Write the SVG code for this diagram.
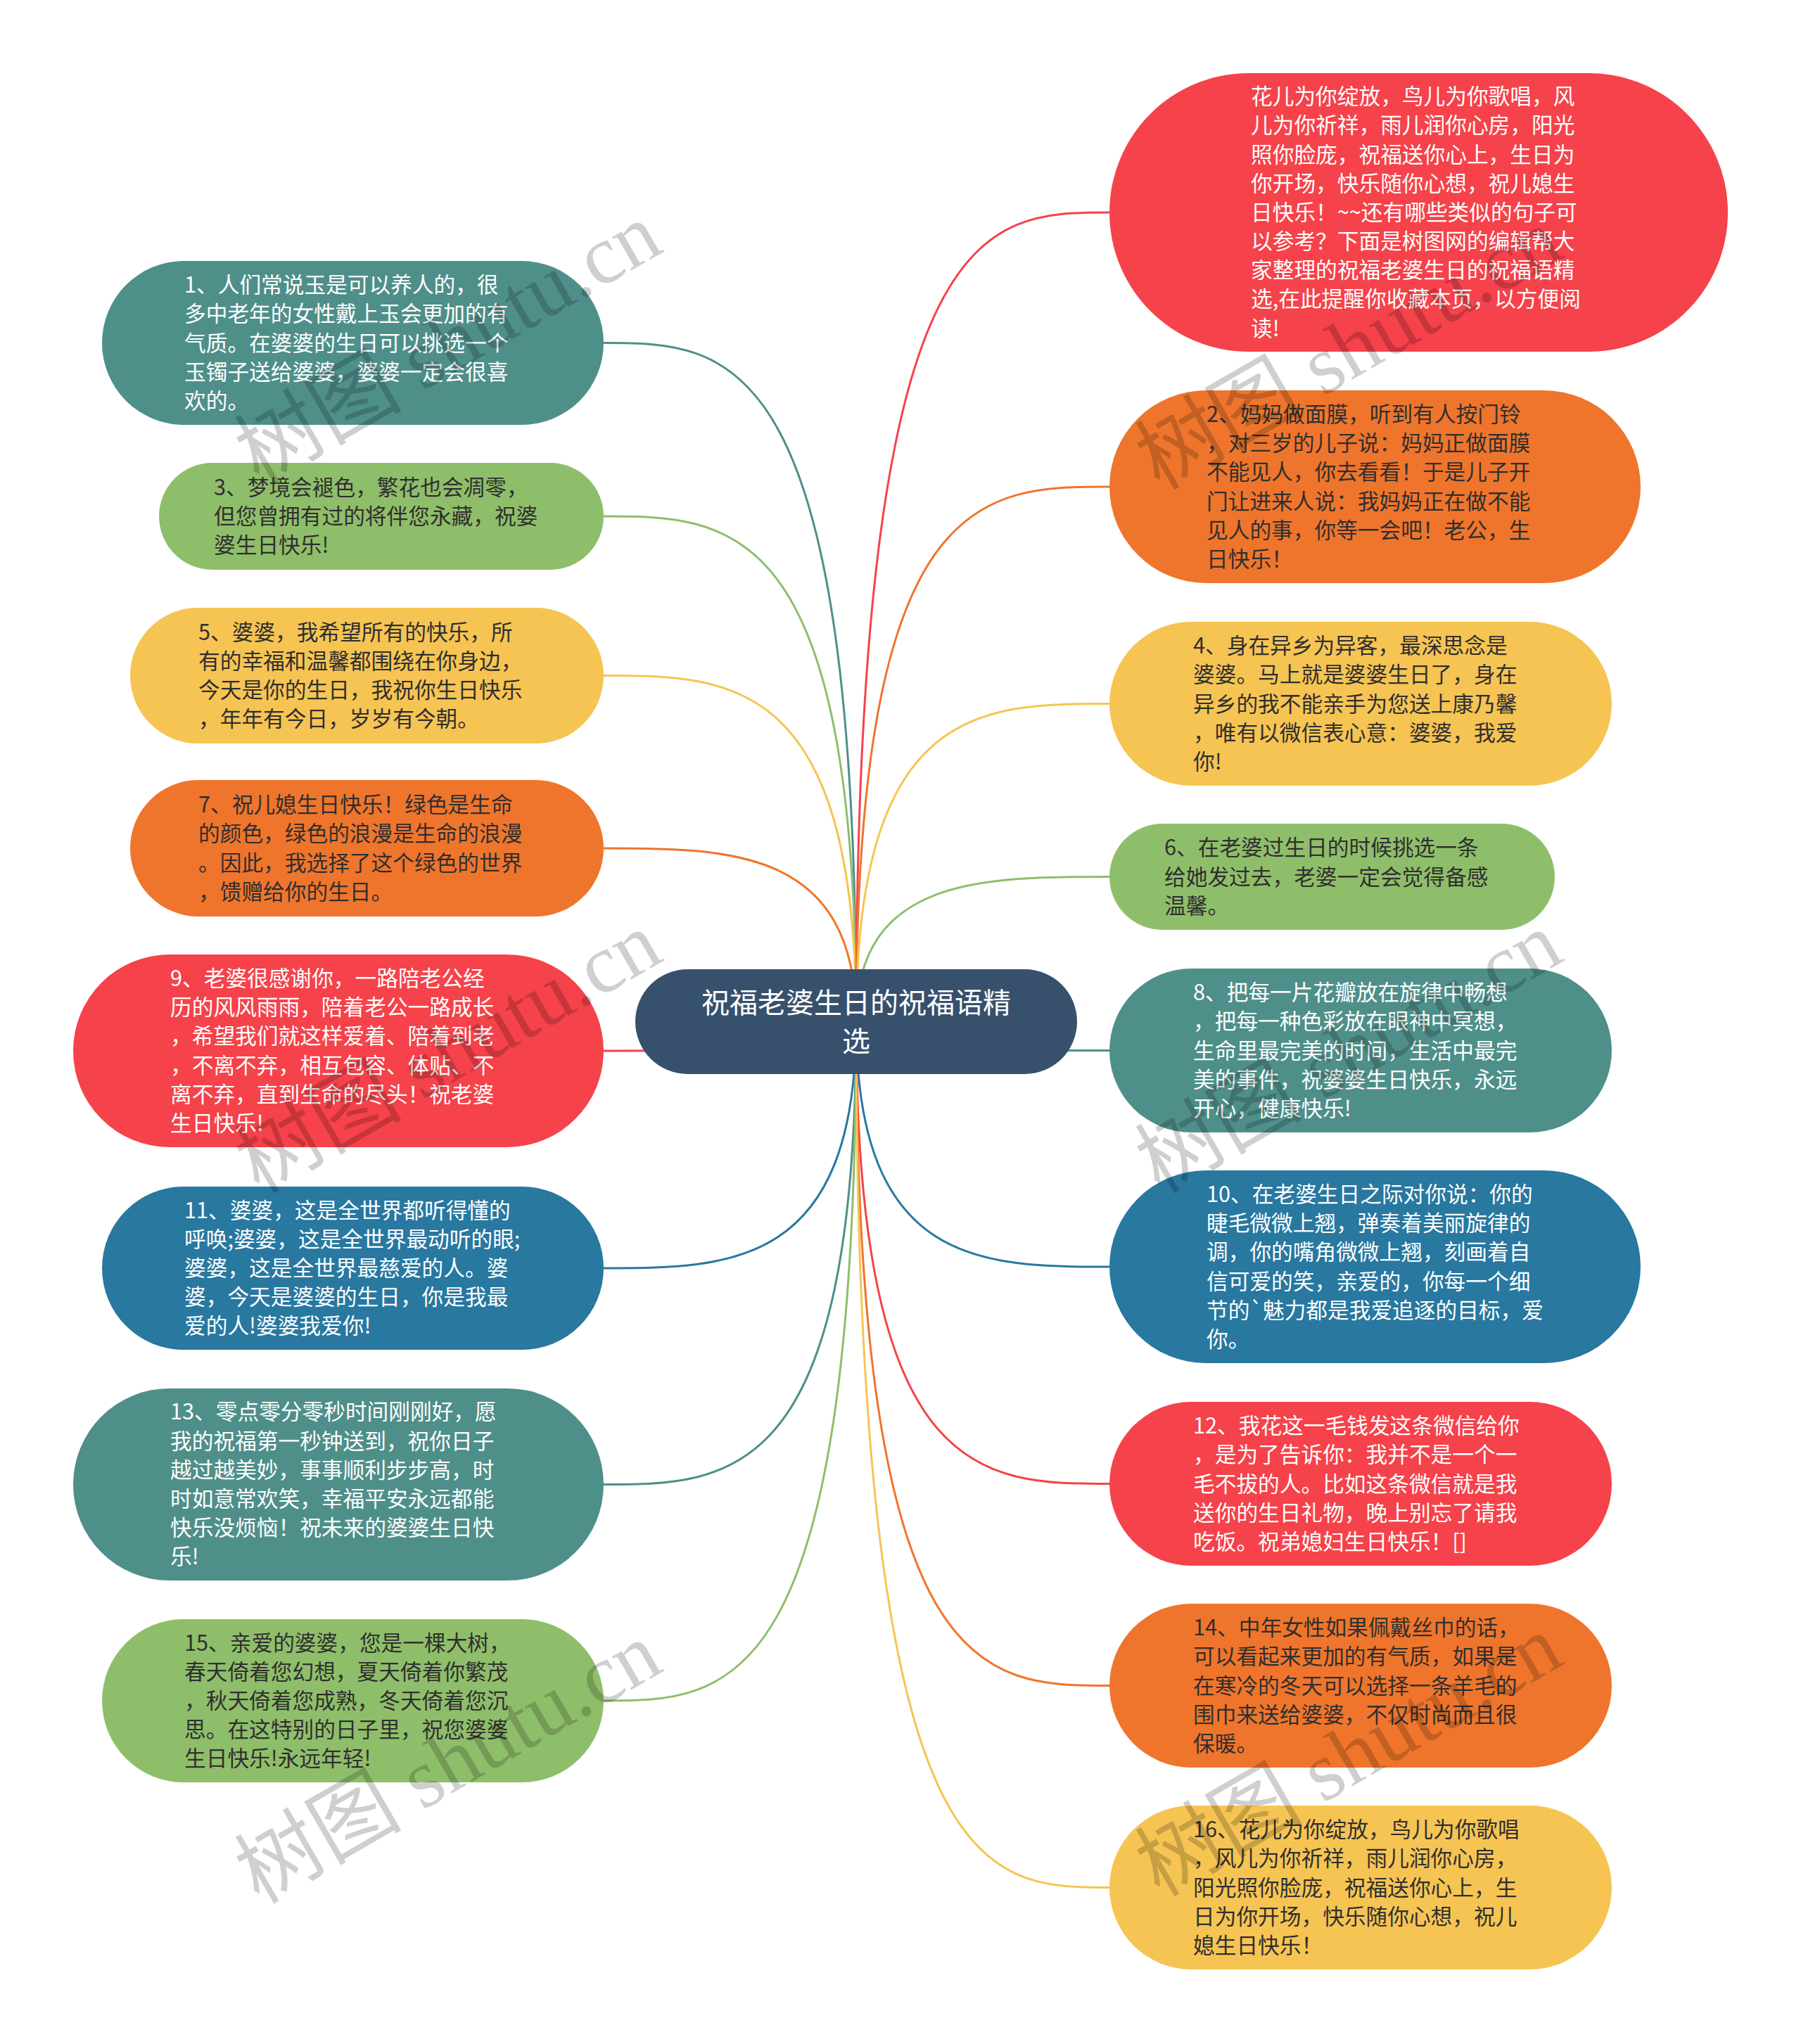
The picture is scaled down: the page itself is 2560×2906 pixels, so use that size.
<svg xmlns="http://www.w3.org/2000/svg" width="2560" height="2906" viewBox="0 0 2560 2906">
<style>
.bg{fill:#ffffff}
.t{font-family:"Noto Sans CJK SC","Noto Sans",sans-serif;font-size:30.7px}
.w{fill:#ffffff}
.d{fill:#2f2f2f}
.root{font-family:"Noto Sans CJK SC","Noto Sans",sans-serif;font-size:40px;fill:#ffffff;text-anchor:middle}
.c{fill:none;stroke-width:3}
.teal{fill:#4F8F8A}.green{fill:#8FBE6A}.yellow{fill:#F6C453}.orange{fill:#EF752C}.red{fill:#F6424A}.blue{fill:#2878A0}
.s-teal{stroke:#4F8F8A}.s-green{stroke:#8FBE6A}.s-yellow{stroke:#F6C453}.s-orange{stroke:#EF752C}.s-red{stroke:#F6424A}.s-blue{stroke:#2878A0}
.wm{font-family:"Liberation Serif","Noto Sans CJK SC",serif;font-size:119px;fill:#000000;fill-opacity:0.19}
</style>
<rect class="bg" x="0" y="0" width="2560" height="2906"/>
<g id="connectors">
<path class="c s-teal" d="M1217 1453 C1217 487.5 1037.5 487.5 858 487.5"/>
<path class="c s-green" d="M1217 1453 C1217 734 1037.5 734 858 734"/>
<path class="c s-yellow" d="M1217 1453 C1217 960.5 1037.5 960.5 858 960.5"/>
<path class="c s-orange" d="M1217 1453 C1217 1206 1037.5 1206 858 1206"/>
<path class="c s-red" d="M1217 1453 C1217 1494 1037.5 1494 858 1494"/>
<path class="c s-blue" d="M1217 1453 C1217 1803 1037.5 1803 858 1803"/>
<path class="c s-teal" d="M1217 1453 C1217 2110.5 1037.5 2110.5 858 2110.5"/>
<path class="c s-green" d="M1217 1453 C1217 2418 1037.5 2418 858 2418"/>
<path class="c s-red" d="M1217 1453 C1217 302 1397 302 1577 302"/>
<path class="c s-orange" d="M1217 1453 C1217 692 1397 692 1577 692"/>
<path class="c s-yellow" d="M1217 1453 C1217 1000.5 1397 1000.5 1577 1000.5"/>
<path class="c s-green" d="M1217 1453 C1217 1246.5 1397 1246.5 1577 1246.5"/>
<path class="c s-teal" d="M1217 1453 C1217 1493.5 1397 1493.5 1577 1493.5"/>
<path class="c s-blue" d="M1217 1453 C1217 1801 1397 1801 1577 1801"/>
<path class="c s-red" d="M1217 1453 C1217 2109.5 1397 2109.5 1577 2109.5"/>
<path class="c s-orange" d="M1217 1453 C1217 2396.5 1397 2396.5 1577 2396.5"/>
<path class="c s-yellow" d="M1217 1453 C1217 2683.5 1397 2683.5 1577 2683.5"/>
</g>
<g id="n1">
<rect class="teal" x="145" y="371" width="713" height="233" rx="116.5"/>
<text class="t w"><tspan x="262" y="416">1、人们常说玉是可以养人的，很</tspan><tspan x="262" y="457">多中老年的女性戴上玉会更加的有</tspan><tspan x="262" y="499">气质。在婆婆的生日可以挑选一个</tspan><tspan x="262" y="540">玉镯子送给婆婆，婆婆一定会很喜</tspan><tspan x="262" y="581">欢的。</tspan></text>
</g>
<g id="n3">
<rect class="green" x="226" y="658" width="632" height="152" rx="76"/>
<text class="t d"><tspan x="304" y="704">3、梦境会褪色，繁花也会凋零，</tspan><tspan x="304" y="745">但您曾拥有过的将伴您永藏，祝婆</tspan><tspan x="304" y="786">婆生日快乐!</tspan></text>
</g>
<g id="n5">
<rect class="yellow" x="185" y="864" width="673" height="193" rx="96.5"/>
<text class="t d"><tspan x="282" y="910">5、婆婆，我希望所有的快乐，所</tspan><tspan x="282" y="951">有的幸福和温馨都围绕在你身边，</tspan><tspan x="282" y="992">今天是你的生日，我祝你生日快乐</tspan><tspan x="282" y="1033">，年年有今日，岁岁有今朝。</tspan></text>
</g>
<g id="n7">
<rect class="orange" x="185" y="1109" width="673" height="194" rx="97"/>
<text class="t d"><tspan x="282" y="1155">7、祝儿媳生日快乐！绿色是生命</tspan><tspan x="282" y="1196">的颜色，绿色的浪漫是生命的浪漫</tspan><tspan x="282" y="1238">。因此，我选择了这个绿色的世界</tspan><tspan x="282" y="1279">，馈赠给你的生日。</tspan></text>
</g>
<g id="n9">
<rect class="red" x="104" y="1357" width="754" height="274" rx="137"/>
<text class="t w"><tspan x="242" y="1402">9、老婆很感谢你，一路陪老公经</tspan><tspan x="242" y="1443">历的风风雨雨，陪着老公一路成长</tspan><tspan x="242" y="1484">，希望我们就这样爱着、陪着到老</tspan><tspan x="242" y="1526">，不离不弃，相互包容、体贴、不</tspan><tspan x="242" y="1567">离不弃，直到生命的尽头！祝老婆</tspan><tspan x="242" y="1608">生日快乐!</tspan></text>
</g>
<g id="n11">
<rect class="blue" x="145" y="1687" width="713" height="232" rx="116"/>
<text class="t w"><tspan x="262" y="1732">11、婆婆，这是全世界都听得懂的</tspan><tspan x="262" y="1773">呼唤;婆婆，这是全世界最动听的眼;</tspan><tspan x="262" y="1814">婆婆，这是全世界最慈爱的人。婆</tspan><tspan x="262" y="1855">婆，今天是婆婆的生日，你是我最</tspan><tspan x="262" y="1896">爱的人!婆婆我爱你!</tspan></text>
</g>
<g id="n13">
<rect class="teal" x="104" y="1974" width="754" height="273" rx="136.5"/>
<text class="t w"><tspan x="242" y="2018">13、零点零分零秒时间刚刚好，愿</tspan><tspan x="242" y="2060">我的祝福第一秒钟送到，祝你日子</tspan><tspan x="242" y="2101">越过越美妙，事事顺利步步高，时</tspan><tspan x="242" y="2142">时如意常欢笑，幸福平安永远都能</tspan><tspan x="242" y="2183">快乐没烦恼！祝未来的婆婆生日快</tspan><tspan x="242" y="2224">乐!</tspan></text>
</g>
<g id="n15">
<rect class="green" x="145" y="2302" width="713" height="232" rx="116"/>
<text class="t d"><tspan x="262" y="2347">15、亲爱的婆婆，您是一棵大树，</tspan><tspan x="262" y="2388">春天倚着您幻想，夏天倚着你繁茂</tspan><tspan x="262" y="2429">，秋天倚着您成熟，冬天倚着您沉</tspan><tspan x="262" y="2470">思。在这特别的日子里，祝您婆婆</tspan><tspan x="262" y="2511">生日快乐!永远年轻!</tspan></text>
</g>
<g id="n0">
<rect class="red" x="1577" y="104" width="879" height="396" rx="198"/>
<text class="t w"><tspan x="1778" y="148">花儿为你绽放，鸟儿为你歌唱，风</tspan><tspan x="1778" y="189">儿为你祈祥，雨儿润你心房，阳光</tspan><tspan x="1778" y="231">照你脸庞，祝福送你心上，生日为</tspan><tspan x="1778" y="272">你开场，快乐随你心想，祝儿媳生</tspan><tspan x="1778" y="313">日快乐！~~还有哪些类似的句子可</tspan><tspan x="1778" y="354">以参考？下面是树图网的编辑帮大</tspan><tspan x="1778" y="395">家整理的祝福老婆生日的祝福语精</tspan><tspan x="1778" y="436">选,在此提醒你收藏本页，以方便阅</tspan><tspan x="1778" y="478">读!</tspan></text>
</g>
<g id="n2">
<rect class="orange" x="1577" y="555" width="755" height="274" rx="137"/>
<text class="t d"><tspan x="1715" y="600">2、妈妈做面膜，听到有人按门铃</tspan><tspan x="1715" y="641">，对三岁的儿子说：妈妈正做面膜</tspan><tspan x="1715" y="682">不能见人，你去看看！于是儿子开</tspan><tspan x="1715" y="724">门让进来人说：我妈妈正在做不能</tspan><tspan x="1715" y="765">见人的事，你等一会吧！老公，生</tspan><tspan x="1715" y="806">日快乐！</tspan></text>
</g>
<g id="n4">
<rect class="yellow" x="1577" y="884" width="714" height="233" rx="116.5"/>
<text class="t d"><tspan x="1696" y="929">4、身在异乡为异客，最深思念是</tspan><tspan x="1696" y="970">婆婆。马上就是婆婆生日了，身在</tspan><tspan x="1696" y="1012">异乡的我不能亲手为您送上康乃馨</tspan><tspan x="1696" y="1053">，唯有以微信表心意：婆婆，我爱</tspan><tspan x="1696" y="1094">你!</tspan></text>
</g>
<g id="n6">
<rect class="green" x="1577" y="1171" width="633" height="151" rx="75.5"/>
<text class="t d"><tspan x="1655" y="1216">6、在老婆过生日的时候挑选一条</tspan><tspan x="1655" y="1258">给她发过去，老婆一定会觉得备感</tspan><tspan x="1655" y="1299">温馨。</tspan></text>
</g>
<g id="n8">
<rect class="teal" x="1577" y="1377" width="714" height="233" rx="116.5"/>
<text class="t w"><tspan x="1696" y="1422">8、把每一片花瓣放在旋律中畅想</tspan><tspan x="1696" y="1463">，把每一种色彩放在眼神中冥想，</tspan><tspan x="1696" y="1505">生命里最完美的时间，生活中最完</tspan><tspan x="1696" y="1546">美的事件，祝婆婆生日快乐，永远</tspan><tspan x="1696" y="1587">开心，健康快乐!</tspan></text>
</g>
<g id="n10">
<rect class="blue" x="1577" y="1664" width="755" height="274" rx="137"/>
<text class="t w"><tspan x="1715" y="1709">10、在老婆生日之际对你说：你的</tspan><tspan x="1715" y="1750">睫毛微微上翘，弹奏着美丽旋律的</tspan><tspan x="1715" y="1791">调，你的嘴角微微上翘，刻画着自</tspan><tspan x="1715" y="1833">信可爱的笑，亲爱的，你每一个细</tspan><tspan x="1715" y="1874">节的`魅力都是我爱追逐的目标，爱</tspan><tspan x="1715" y="1915">你。</tspan></text>
</g>
<g id="n12">
<rect class="red" x="1577" y="1993" width="714" height="233" rx="116.5"/>
<text class="t w"><tspan x="1696" y="2038">12、我花这一毛钱发这条微信给你</tspan><tspan x="1696" y="2079">，是为了告诉你：我并不是一个一</tspan><tspan x="1696" y="2121">毛不拔的人。比如这条微信就是我</tspan><tspan x="1696" y="2162">送你的生日礼物，晚上别忘了请我</tspan><tspan x="1696" y="2203">吃饭。祝弟媳妇生日快乐！[]</tspan></text>
</g>
<g id="n14">
<rect class="orange" x="1577" y="2280" width="714" height="233" rx="116.5"/>
<text class="t d"><tspan x="1696" y="2325">14、中年女性如果佩戴丝巾的话，</tspan><tspan x="1696" y="2366">可以看起来更加的有气质，如果是</tspan><tspan x="1696" y="2408">在寒冷的冬天可以选择一条羊毛的</tspan><tspan x="1696" y="2449">围巾来送给婆婆，不仅时尚而且很</tspan><tspan x="1696" y="2490">保暖。</tspan></text>
</g>
<g id="n16">
<rect class="yellow" x="1577" y="2567" width="714" height="233" rx="116.5"/>
<text class="t d"><tspan x="1696" y="2612">16、花儿为你绽放，鸟儿为你歌唱</tspan><tspan x="1696" y="2653">，风儿为你祈祥，雨儿润你心房，</tspan><tspan x="1696" y="2695">阳光照你脸庞，祝福送你心上，生</tspan><tspan x="1696" y="2736">日为你开场，快乐随你心想，祝儿</tspan><tspan x="1696" y="2777">媳生日快乐！</tspan></text>
</g>
<g id="root">
<rect x="903" y="1378" width="628" height="149" rx="74.5" fill="#37516D"/>
<text class="root"><tspan x="1217" y="1440">祝福老婆生日的祝福语精</tspan><tspan x="1217" y="1495">选</tspan></text>
</g>
<g id="watermarks">
<text class="wm" transform="translate(368,690) rotate(-30)">树图 shutu.cn</text>
<text class="wm" transform="translate(1648,698) rotate(-30)">树图 shutu.cn</text>
<text class="wm" transform="translate(368,1698) rotate(-30)">树图 shutu.cn</text>
<text class="wm" transform="translate(1648,1698) rotate(-30)">树图 shutu.cn</text>
<text class="wm" transform="translate(368,2708) rotate(-30)">树图 shutu.cn</text>
<text class="wm" transform="translate(1648,2698) rotate(-30)">树图 shutu.cn</text>
</g>
</svg>
